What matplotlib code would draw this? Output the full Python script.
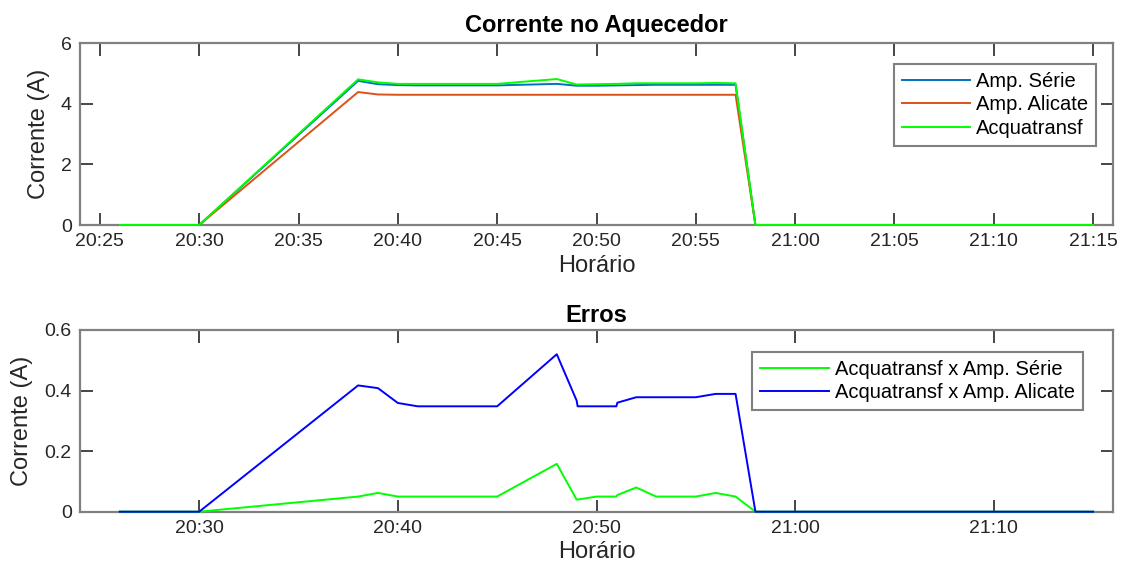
import numpy as np
import pandas as pd
import matplotlib
matplotlib.use("Agg")
import matplotlib.pyplot as plt
import matplotlib.dates as mdates

# Leituras de corrente no aquecedor (A)
horarios = ["20:26:00", "20:30:00", "20:38:00", "20:39:00", "20:40:00", "20:41:00",
            "20:45:00", "20:48:00", "20:49:00", "20:50:00", "20:51:00", "20:52:00",
            "20:53:00", "20:55:00", "20:56:00", "20:57:00", "20:58:00", "21:15:00"]
amp_serie = [0, 0, 4.76, 4.65, 4.62, 4.61, 4.61, 4.66, 4.60, 4.60, 4.61, 4.62,
             4.63, 4.63, 4.63, 4.63, 0, 0]
amp_alicate = [0, 0, 4.39, 4.31, 4.30, 4.30, 4.30, 4.30, 4.30, 4.30, 4.30, 4.30,
               4.30, 4.30, 4.30, 4.30, 0, 0]
acquatransf = [0, 0, 4.81, 4.71, 4.66, 4.66, 4.66, 4.82, 4.64, 4.65, 4.66, 4.68,
               4.68, 4.68, 4.69, 4.68, 0, 0]

# Erros absolutos entre os medidores (A)
horarios_erro = ["20:26:00", "20:30:00", "20:38:00", "20:39:00", "20:40:00", "20:41:00",
                 "20:45:00", "20:48:00", "20:49:00", "20:49:03", "20:50:00", "20:51:00",
                 "20:51:03", "20:52:00", "20:53:00", "20:55:00", "20:56:00", "20:57:00",
                 "20:58:00", "21:15:00"]
erro_serie = [0, 0, 0.050, 0.062, 0.050, 0.050, 0.050, 0.158, 0.040, 0.040, 0.050, 0.050,
              0.055, 0.080, 0.050, 0.050, 0.062, 0.050, 0, 0]
erro_alicate = [0, 0, 0.417, 0.408, 0.359, 0.348, 0.348, 0.520, 0.367, 0.348, 0.348, 0.348,
                0.360, 0.378, 0.378, 0.378, 0.389, 0.389, 0, 0]

t = pd.to_datetime(horarios, format="%H:%M:%S")
t_erro = pd.to_datetime(horarios_erro, format="%H:%M:%S")
xmin = pd.to_datetime("20:24:00", format="%H:%M:%S")
xmax = pd.to_datetime("21:16:00", format="%H:%M:%S")

plt.rcParams['font.family'] = ['Liberation Sans', 'DejaVu Sans']

cinza = '#808080'
texto = '#262626'

fig = plt.figure(figsize=(11.28, 5.77), dpi=100)
ax1 = fig.add_axes([80 / 1128, 1 - 225 / 577, 1033 / 1128, 181.7 / 577])
ax2 = fig.add_axes([80 / 1128, 1 - 511.7 / 577, 1033 / 1128, 181.7 / 577])


def estilo(ax, passo):
    for s in ax.spines.values():
        s.set_color(cinza)
        s.set_linewidth(1.6)
    ax.tick_params(direction='in', length=9, width=1.2, color=texto,
                   top=True, right=True, labelsize=14, labelcolor=texto, pad=6)
    ax.xaxis.set_major_locator(mdates.MinuteLocator(byminute=range(0, 60, passo)))
    ax.xaxis.set_major_formatter(mdates.DateFormatter('%H:%M'))
    ax.set_xlim(xmin, xmax)
    ax.set_xlabel("Horário", fontsize=17, color=texto, labelpad=3)
    ax.set_ylabel("Corrente (A)", fontsize=17, color=texto, labelpad=8)


def legenda(ax, ancora):
    leg = ax.legend(loc='upper right', bbox_to_anchor=ancora, borderaxespad=0,
                    fontsize=14.5, handlelength=3.4, handletextpad=0.3, labelspacing=0.22,
                    borderpad=0.4, fancybox=False, framealpha=1, edgecolor=cinza)
    leg.get_frame().set_linewidth(1.5)
    return leg


linha = dict(lw=1.4, clip_on=False, zorder=3)

ax1.plot(t, amp_serie, color='#0072BD', label='Amp. Série', **linha)
ax1.plot(t, amp_alicate, color='#D95319', label='Amp. Alicate', **linha)
ax1.plot(t, acquatransf, color='#00FF00', label='Acquatransf', **linha)
ax1.set_ylim(0, 6)
ax1.set_yticks([0, 2, 4, 6])
estilo(ax1, 5)
ax1.set_title("Corrente no Aquecedor", fontsize=17, fontweight='bold', pad=8)
legenda(ax1, (0.984, 0.886))

ax2.plot(t_erro, erro_serie, color='#00FF00', label='Acquatransf x Amp. Série', **linha)
ax2.plot(t_erro, erro_alicate, color='#0000FF', label='Acquatransf x Amp. Alicate', **linha)
ax2.set_ylim(0, 0.6)
ax2.set_yticks([0, 0.2, 0.4, 0.6])
ax2.yaxis.set_major_formatter(plt.FuncFormatter(lambda v, p: '0' if v == 0 else f'{v:.1f}'))
estilo(ax2, 10)
ax2.set_title("Erros", fontsize=17, fontweight='bold', pad=6)
legenda(ax2, (0.971, 0.881))

fig.savefig("out.png", dpi=100)
